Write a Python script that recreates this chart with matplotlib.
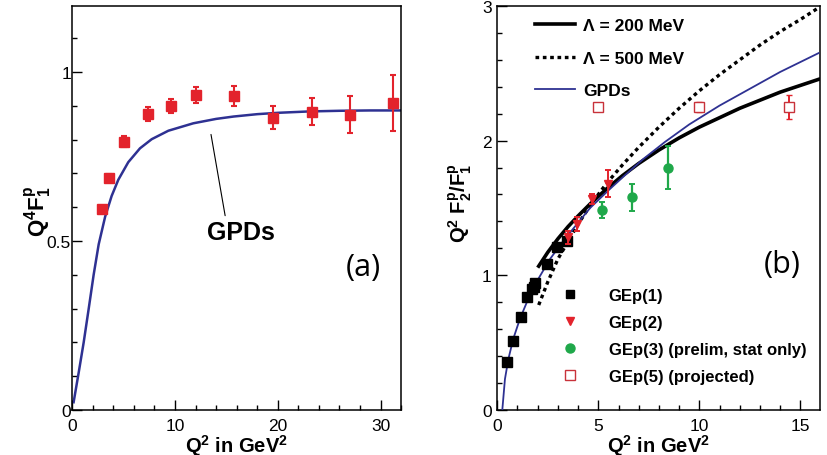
import numpy as np
import matplotlib
matplotlib.use('Agg')
import matplotlib.pyplot as plt
from matplotlib.ticker import MultipleLocator, FuncFormatter
from matplotlib.lines import Line2D

plt.rcParams['font.family'] = ['Liberation Sans', 'DejaVu Sans']
plt.rcParams['mathtext.fontset'] = 'custom'
plt.rcParams['mathtext.rm'] = 'Liberation Sans'
plt.rcParams['mathtext.bf'] = 'Liberation Sans:bold'
plt.rcParams['mathtext.it'] = 'Liberation Sans:italic'

# ---- panel (a): Q^4 F1p ----
a_q2 = [2.86, 3.6, 5.03, 7.34, 9.64, 12.05, 15.75, 19.5, 23.3, 27.0, 31.25]
a_val = [0.595, 0.685, 0.794, 0.875, 0.899, 0.931, 0.928, 0.865, 0.882, 0.874, 0.907]
a_err = [0.008, 0.012, 0.015, 0.02, 0.02, 0.023, 0.03, 0.035, 0.04, 0.056, 0.083]

a_gpd_q2 = [0.13, 0.62, 1.11, 1.6, 2.08, 2.57, 3.2, 3.83, 4.48, 5.45, 6.59,
            7.73, 9.35, 11.78, 14.0, 15.7, 18.0, 20.0, 23.0, 26.0, 29.0, 32.0]
a_gpd_val = [0.023, 0.11, 0.20, 0.30, 0.40, 0.49, 0.572, 0.633, 0.681, 0.733,
             0.774, 0.801, 0.826, 0.848, 0.861, 0.868, 0.875, 0.879, 0.883,
             0.885, 0.886, 0.886]

# ---- panel (b): Q^2 F2p/F1p ----
gep1_q2 = [0.49, 0.79, 1.16, 1.45, 1.70, 1.80, 1.88, 2.45, 2.95, 3.45]
gep1_val = [0.358, 0.511, 0.69, 0.84, 0.897, 0.915, 0.94, 1.08, 1.21, 1.255]

gep2_q2 = [3.48, 3.96, 4.68, 5.46]
gep2_val = [1.28, 1.38, 1.567, 1.68]
gep2_err = [0.05, 0.05, 0.035, 0.1]

gep3_q2 = [5.17, 6.65, 8.47]
gep3_val = [1.485, 1.58, 1.797]
gep3_err = [0.06, 0.1, 0.16]

gep5_q2 = [4.97, 9.97, 14.43]
gep5_val = [2.25, 2.25, 2.25]
gep5_err = [0.0, 0.04, 0.088]

lam200_q2 = [2.05, 2.5, 3.0, 3.5, 4.0, 4.6, 5.4, 6.2, 7.0, 8.0, 9.0, 10.0,
             11.0, 12.0, 13.0, 14.0, 15.0, 15.9]
lam200_val = [1.067, 1.17, 1.27, 1.36, 1.44, 1.53, 1.64, 1.74, 1.83, 1.93,
              2.02, 2.10, 2.17, 2.24, 2.30, 2.36, 2.41, 2.455]

lam500_q2 = [2.05, 2.5, 3.0, 3.5, 4.0, 4.7, 5.4, 6.2, 7.0, 8.0, 9.0, 10.0,
             11.0, 12.0, 13.0, 14.0, 15.0, 15.93]
lam500_val = [0.778, 0.95, 1.12, 1.25, 1.38, 1.54, 1.68, 1.82, 1.95, 2.10,
              2.24, 2.37, 2.49, 2.60, 2.71, 2.81, 2.90, 2.99]

b_gpd_q2 = [0.25, 0.38, 0.55, 0.79, 1.12, 1.53, 2.03, 2.61, 3.35, 4.0, 4.6,
            5.5, 6.3, 7.2, 8.3, 9.5, 11.0, 12.5, 14.0, 15.9]
b_gpd_val = [0.0, 0.228, 0.377, 0.526, 0.675, 0.823, 0.972, 1.12, 1.27, 1.39,
             1.50, 1.63, 1.74, 1.86, 1.99, 2.12, 2.26, 2.385, 2.51, 2.65]

RED = '#e3232c'
GREEN = '#1fa84a'
BLUE = '#2e3192'
OPEN_RED = '#c8323a'

fig = plt.figure(figsize=(8.27, 4.56), dpi=100)
ax1 = fig.add_axes([0.0874, 0.0987, 0.3976, 0.886])
ax2 = fig.add_axes([0.6013, 0.0993, 0.3897, 0.8853])

fmt = FuncFormatter(lambda v, p: '%g' % v)


def style(ax):
    for s in ax.spines.values():
        s.set_linewidth(1.1)
    ax.tick_params(which='both', direction='in', top=False, right=False,
                   width=1.0, labelsize=12.5)
    ax.tick_params(which='major', length=7)
    ax.tick_params(which='minor', length=3.8)
    ax.tick_params(axis='x', pad=6)
    ax.yaxis.set_major_formatter(fmt)


# panel (a)
ax1.plot(a_gpd_q2, a_gpd_val, color=BLUE, lw=1.8, zorder=2)
ax1.errorbar(a_q2, a_val, yerr=a_err, fmt='s', color=RED, ms=6.5,
             elinewidth=1.5, capsize=2, capthick=1.5, zorder=3)
ax1.set_xlim(0, 32)
ax1.set_ylim(0, 1.195)
ax1.xaxis.set_major_locator(MultipleLocator(10))
ax1.xaxis.set_minor_locator(MultipleLocator(2))
ax1.yaxis.set_major_locator(MultipleLocator(0.5))
ax1.yaxis.set_minor_locator(MultipleLocator(0.1))
style(ax1)
ax1.tick_params(axis='y', pad=1)
ax1.annotate('GPDs', xy=(13.5, 0.815), xytext=(16.4, 0.527),
             fontsize=18, fontweight='bold', ha='center', va='center',
             arrowprops=dict(arrowstyle='-', lw=0.8, color='black',
                             relpos=(0.28, 1.0), shrinkA=1, shrinkB=0))
ax1.text(0.884, 0.355, '(a)', transform=ax1.transAxes, fontsize=22,
         family=['Open Sans', 'DejaVu Sans'], ha='center', va='center')
ax1.text(0.5, -0.087, r'$\mathbf{Q^2}$ in GeV$\mathbf{^2}$', transform=ax1.transAxes,
         fontsize=14.5, fontweight='bold', ha='center', va='center')
ax1.text(-0.104, 0.495, r'$\mathbf{Q^4F_1^p}$', transform=ax1.transAxes,
         fontsize=16, rotation=90, ha='center', va='center')

# panel (b)
ax2.plot(lam500_q2, lam500_val, color='black', lw=2.4, ls=(0, (1.1, 1.1)), zorder=2)
ax2.plot(lam200_q2, lam200_val, color='black', lw=2.6, zorder=2)
ax2.plot(b_gpd_q2, b_gpd_val, color=BLUE, lw=1.3, zorder=3)
ax2.plot(gep1_q2, gep1_val, 's', color='black', ms=6.5, zorder=4)
ax2.errorbar(gep2_q2, gep2_val, yerr=gep2_err, fmt='v', color=RED, ms=6,
             elinewidth=1.4, capsize=2, capthick=1.4, zorder=4)
ax2.errorbar(gep3_q2, gep3_val, yerr=gep3_err, fmt='o', color=GREEN, ms=6.5,
             elinewidth=1.6, capsize=2, capthick=1.4, zorder=4)
ax2.errorbar(gep5_q2, gep5_val, yerr=gep5_err, fmt='s', color=RED, ms=6.5,
             mfc='white', mec=OPEN_RED, mew=1.0, elinewidth=1.4, capsize=2,
             capthick=1.4, zorder=4)
ax2.set_xlim(0, 15.95)
ax2.set_ylim(0, 3)
ax2.xaxis.set_major_locator(MultipleLocator(5))
ax2.xaxis.set_minor_locator(MultipleLocator(1))
ax2.yaxis.set_major_locator(MultipleLocator(1))
ax2.yaxis.set_minor_locator(MultipleLocator(0.2))
style(ax2)
ax2.tick_params(axis='y', pad=4)

line_handles = [Line2D([], [], color='black', lw=2.6),
                Line2D([], [], color='black', lw=2.4, ls=(0, (1.1, 1.1))),
                Line2D([], [], color=BLUE, lw=1.3)]
leg1 = ax2.legend(line_handles, ['Λ = 200 MeV', 'Λ = 500 MeV', 'GPDs'],
                  loc='upper left', bbox_to_anchor=(0.08, 1.0), frameon=False,
                  prop={'weight': 'bold', 'size': 12.5}, handlelength=2.3,
                  handletextpad=0.45, labelspacing=1.0, borderaxespad=0.3)
ax2.add_artist(leg1)

mark_handles = [Line2D([], [], ls='', marker='s', color='black', ms=6),
                Line2D([], [], ls='', marker='v', color=RED, ms=6),
                Line2D([], [], ls='', marker='o', color=GREEN, ms=6.5),
                Line2D([], [], ls='', marker='s', mfc='white', mec=OPEN_RED, ms=7)]
ax2.legend(mark_handles, ['GEp(1)', 'GEp(2)', 'GEp(3) (prelim, stat only)',
                          'GEp(5) (projected)'],
           loc='upper left', bbox_to_anchor=(0.165, 0.318), frameon=False,
           prop={'weight': 'bold', 'size': 12}, handlelength=1.6,
           handletextpad=1.5, labelspacing=0.72, borderaxespad=0.0)

ax2.text(0.883, 0.362, '(b)', transform=ax2.transAxes, fontsize=22,
         family=['Open Sans', 'DejaVu Sans'], ha='center', va='center')
ax2.text(0.5, -0.087, r'$\mathbf{Q^2}$ in GeV$\mathbf{^2}$', transform=ax2.transAxes,
         fontsize=14.5, fontweight='bold', ha='center', va='center')
ax2.text(-0.116, 0.514, r'$\mathbf{Q^2\ F_2^p/F_1^p}$', transform=ax2.transAxes,
         fontsize=14.5, rotation=90, ha='center', va='center')

# clipped red mark at the left edge of the page
fig.text(-0.012, 0.055, ')', color='red', fontsize=22, fontweight='bold',
         ha='left', va='bottom')

fig.savefig('out.png', dpi=100)
